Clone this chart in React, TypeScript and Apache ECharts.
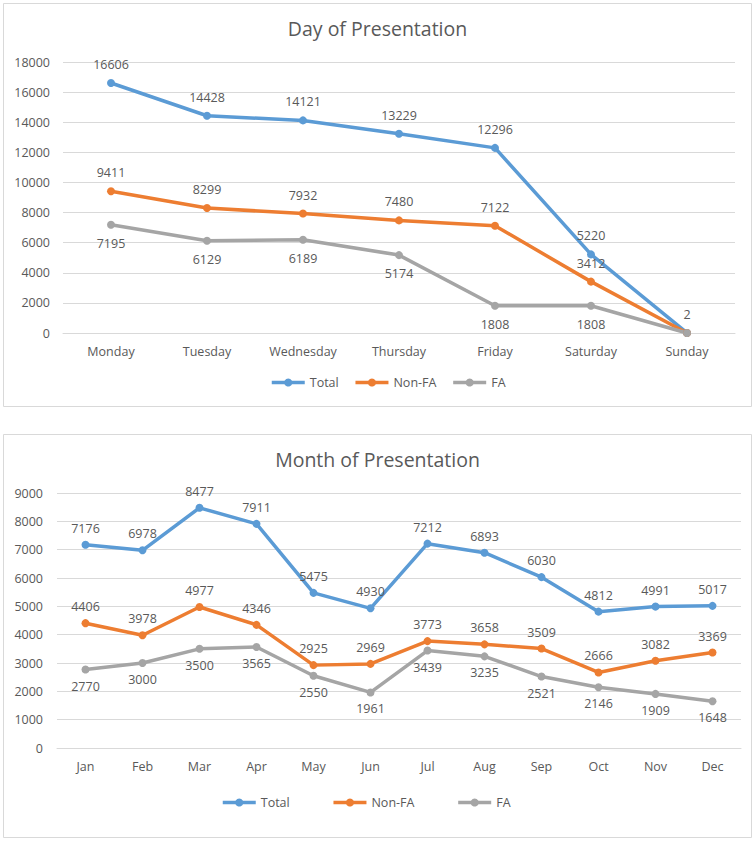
import React, { useEffect, useRef } from "react";
import * as echarts from "echarts";

const days = ["Monday", "Tuesday", "Wednesday", "Thursday", "Friday", "Saturday", "Sunday"];
const dayTotal = [16606, 14428, 14121, 13229, 12296, 5220, 2];
const dayNonFA = [9411, 8299, 7932, 7480, 7122, 3412, 2];
const dayFA = [7195, 6129, 6189, 5174, 1808, 1808, 0];
const dayHiddenLabels = { nonfa: [6], fa: [6] };

const months = ["Jan", "Feb", "Mar", "Apr", "May", "Jun", "Jul", "Aug", "Sep", "Oct", "Nov", "Dec"];
const monthTotal = [7176, 6978, 8477, 7911, 5475, 4930, 7212, 6893, 6030, 4812, 4991, 5017];
const monthNonFA = [4406, 3978, 4977, 4346, 2925, 2969, 3773, 3658, 3509, 2666, 3082, 3369];
const monthFA = [2770, 3000, 3500, 3565, 2550, 1961, 3439, 3235, 2521, 2146, 1909, 1648];

const seriesNames = ["Total", "Non-FA", "FA"];
const colors = ["#5B9BD5", "#ED7D31", "#A5A5A5"];
const FONT = "'Open Sans', 'Noto Sans', sans-serif";
const TXT = "#595959";

function mk(values: number[], hidden: number[]) {
  return values.map((v, i) => (hidden.includes(i) ? { value: v, label: { show: false } } : v));
}

function lineSeries(name: string, color: string, data: any[], pos: string, dist: number, xi: number) {
  return {
    type: "line",
    name,
    xAxisIndex: xi,
    yAxisIndex: xi,
    data,
    symbol: "circle",
    symbolSize: 8,
    lineStyle: { width: 3.5, color },
    itemStyle: { color },
    label: {
      show: true,
      position: pos,
      distance: dist,
      color: TXT,
      fontSize: 12.5,
      fontFamily: FONT,
    },
    emphasis: { disabled: true },
  };
}

export default function App() {
  const ref = useRef<HTMLDivElement>(null);
  useEffect(() => {
    const chart = echarts.init(ref.current!, undefined, { renderer: "svg" });
    const axisX = (gi: number, cats: string[]) => ({
      type: "category",
      gridIndex: gi,
      data: cats,
      boundaryGap: true,
      axisLine: { lineStyle: { color: "#D9D9D9", width: 1 } },
      axisTick: { show: false },
      axisLabel: { color: TXT, fontSize: 12.5, fontFamily: FONT, margin: 12 },
    });
    const axisY = (gi: number, max: number, interval: number, margin: number) => ({
      type: "value",
      gridIndex: gi,
      min: 0,
      max,
      interval,
      axisLine: { show: false },
      axisTick: { show: false },
      splitLine: { lineStyle: { color: "#D9D9D9", width: 1 } },
      axisLabel: { color: TXT, fontSize: 12.5, fontFamily: FONT, margin, formatter: (v: number) => String(v) },
    });
    const legendBase = {
      data: seriesNames,
      itemWidth: 33,
      itemHeight: 10,
      padding: 0,
      lineStyle: { width: 3.5 },
      textStyle: { color: TXT, fontSize: 12.5, fontFamily: FONT },
    };
    chart.setOption({
      animation: false,
      backgroundColor: "#fff",
      graphic: [
        { type: "rect", shape: { x: 3.5, y: 3.5, width: 748, height: 403 }, style: { fill: "#fff", stroke: "#D9D9D9", lineWidth: 1 }, z: -10 },
        { type: "rect", shape: { x: 3.5, y: 434.5, width: 748, height: 403 }, style: { fill: "#fff", stroke: "#D9D9D9", lineWidth: 1 }, z: -10 },
      ],
      title: [
        { text: "Day of Presentation", left: "center", top: 18, padding: 0, textStyle: { color: TXT, fontSize: 19.5, fontWeight: "normal", fontFamily: FONT } },
        { text: "Month of Presentation", left: "center", top: 449, padding: 0, textStyle: { color: TXT, fontSize: 19.5, fontWeight: "normal", fontFamily: FONT } },
      ],
      legend: [
        { ...legendBase, left: 270, top: 376, itemGap: 15 },
        { ...legendBase, left: 221, top: 796, itemGap: 42 },
      ],
      grid: [
        { left: 63, right: 20, top: 62, height: 271 },
        { left: 57, right: 14, top: 493, height: 255 },
      ],
      xAxis: [axisX(0, days), axisX(1, months)],
      yAxis: [axisY(0, 18000, 2000, 13), axisY(1, 9000, 1000, 14)],
      series: [
        lineSeries(seriesNames[0], colors[0], mk(dayTotal, []), "top", 8, 0),
        lineSeries(seriesNames[1], colors[1], mk(dayNonFA, dayHiddenLabels.nonfa), "top", 8, 0),
        lineSeries(seriesNames[2], colors[2], mk(dayFA, dayHiddenLabels.fa), "bottom", 8, 0),
        lineSeries(seriesNames[0], colors[0], mk(monthTotal, []), "top", 6, 1),
        lineSeries(seriesNames[1], colors[1], mk(monthNonFA, []), "top", 6, 1),
        lineSeries(seriesNames[2], colors[2], mk(monthFA, []), "bottom", 6, 1),
      ],
    });
    return () => chart.dispose();
  }, []);
  return (
    <div style={{ position: "absolute", left: 0, top: 0, width: 755, height: 841, background: "#fff" }}>
      <div ref={ref} style={{ width: 755, height: 841 }} />
    </div>
  );
}
